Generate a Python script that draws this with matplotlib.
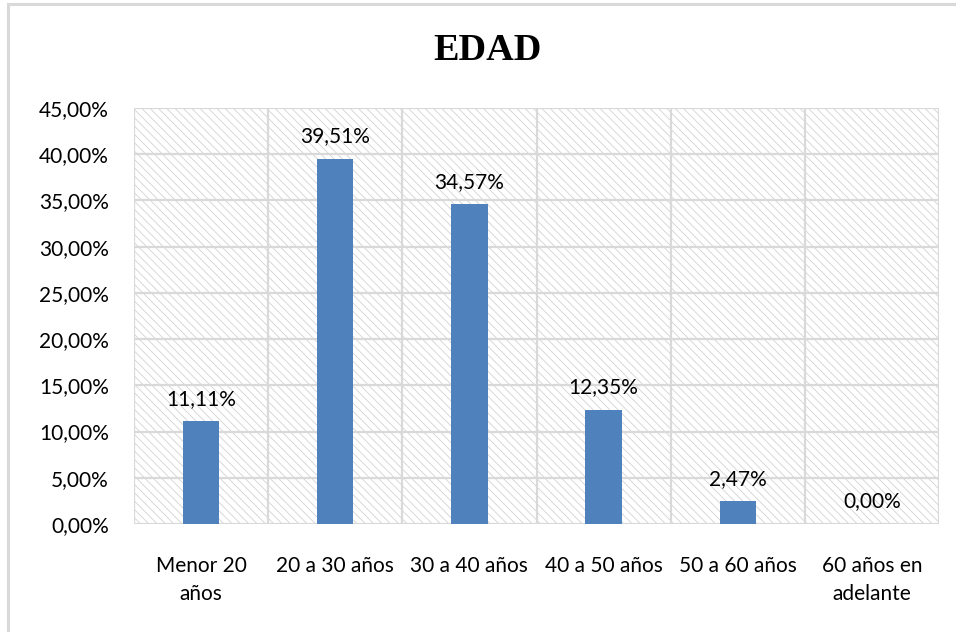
import numpy as np
import matplotlib
matplotlib.use("Agg")
import matplotlib.pyplot as plt
from matplotlib.patches import Rectangle

# data
categories = ["Menor 20\naños", "20 a 30 años", "30 a 40 años",
              "40 a 50 años", "50 a 60 años", "60 años en\nadelante"]
values = [11.11, 39.51, 34.57, 12.35, 2.47, 0.00]
yticks = [0, 5, 10, 15, 20, 25, 30, 35, 40, 45]

bar_color = "#4f81bd"
grid_color = "#d9d9d9"

plt.rcParams["font.family"] = ["Lato", "DejaVu Sans"]
plt.rcParams["hatch.linewidth"] = 0.6

fig = plt.figure(figsize=(9.56, 6.32), dpi=100)
ax = fig.add_axes([134 / 956, 1 - 524 / 632, (939 - 134) / 956, (524 - 108) / 632])

# outer chart border (only top and left visible in the reference)
fig.patches.append(Rectangle((8 / 956, -0.1), 1.2, 1 - 4 / 632 + 0.1,
                             transform=fig.transFigure, fill=False,
                             edgecolor=grid_color, linewidth=2.2, zorder=0))

x = np.arange(len(categories))

# hatched plot area background
ax.add_patch(Rectangle((0, 0), 1, 1, transform=ax.transAxes,
                       facecolor="white", edgecolor="#d2d2d2", linewidth=0,
                       hatch="\\\\\\\\", zorder=0))

ax.bar(x, values, width=0.27, color=bar_color, zorder=3)

for xi, v in zip(x, values):
    ax.annotate(f"{v:.2f}%".replace(".", ","), (xi, v), xytext=(0, 9),
                textcoords="offset points", ha="center", va="bottom",
                fontsize=15, color="#000000", zorder=4)

ax.set_xlim(-0.5, len(categories) - 0.5)
ax.set_ylim(0, 45)
ax.set_yticks(yticks)
ax.set_yticklabels([f"{t:.2f}%".replace(".", ",") for t in yticks], fontsize=15)
ax.set_xticks(x)
ax.set_xticklabels(categories, fontsize=15, linespacing=1.5)
ax.tick_params(axis="both", length=0)
ax.tick_params(axis="y", pad=18)
ax.tick_params(axis="x", pad=23)

for t in yticks:
    ax.axhline(t, color=grid_color, linewidth=1.6, zorder=1)
for b in np.arange(-0.5, len(categories), 1.0):
    ax.axvline(b, color=grid_color, linewidth=1.6, zorder=1)

for s in ax.spines.values():
    s.set_visible(False)

fig.text(488 / 956, 1 - 51 / 632, "EDAD", ha="center", va="center",
         fontsize=27.5, fontweight="bold", family="Liberation Serif")

fig.savefig("out.png", dpi=100, facecolor="white")
